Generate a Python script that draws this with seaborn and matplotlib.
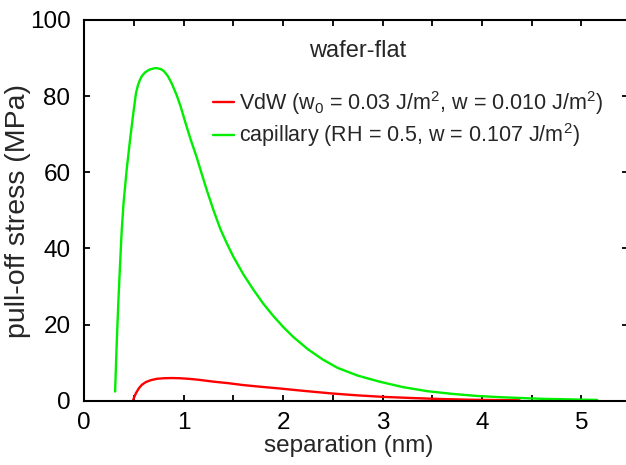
import numpy as np
import pandas as pd
import matplotlib
matplotlib.use("Agg")
import matplotlib.pyplot as plt
import seaborn as sns
from matplotlib.ticker import MultipleLocator

# ---- data ----
vdw_x = [0.49, 0.50, 0.52, 0.55, 0.58, 0.62, 0.67, 0.73, 0.80, 0.88, 0.96, 1.05,
         1.15, 1.30, 1.45, 1.60, 1.80, 1.97, 2.20, 2.49, 2.75, 3.01, 3.30, 3.57,
         3.90, 4.38]
vdw_y = [0.0, 0.8, 2.0, 3.3, 4.2, 4.9, 5.4, 5.75, 5.9, 5.95, 5.9, 5.75,
         5.5, 5.0, 4.6, 4.1, 3.6, 3.2, 2.6, 1.9, 1.4, 1.0, 0.7, 0.45,
         0.25, 0.1]
cap_x = [0.31, 0.326, 0.342, 0.36, 0.376, 0.395, 0.426, 0.46, 0.493, 0.52, 0.54,
         0.56, 0.58, 0.61, 0.65, 0.70, 0.73, 0.77, 0.80, 0.84, 0.88, 0.93, 0.97,
         1.02, 1.07, 1.13, 1.18, 1.23, 1.30, 1.37, 1.44, 1.50, 1.60, 1.70, 1.80,
         1.90, 2.00, 2.10, 2.25, 2.40, 2.55, 2.75, 2.97, 3.20, 3.45, 3.70, 3.95,
         4.20, 4.60, 5.16]
cap_y = [2.4, 15.0, 25.6, 36.0, 44.5, 52.0, 60.6, 68.5, 75.5, 80.8, 82.9,
         84.3, 85.3, 86.2, 86.9, 87.3, 87.35, 87.1, 86.6, 85.3, 83.3, 80.2, 77.2,
         72.8, 68.6, 64.0, 59.7, 55.5, 50.0, 45.0, 41.0, 37.8, 33.2, 29.2, 25.5,
         22.3, 19.4, 16.8, 13.5, 10.8, 8.6, 6.6, 5.0, 3.6, 2.5, 1.8, 1.25,
         0.9, 0.5, 0.2]
vdw_label = "VdW (w$_0$ = 0.03 J/m$^2$, w = 0.010 J/m$^2$)"
cap_label = "capillary (RH = 0.5, w = 0.107 J/m$^2$)"
x_ticks = [0, 1, 2, 3, 4, 5]
y_ticks = [0, 20, 40, 60, 80, 100]
title_text = "wafer-flat"
x_label = "separation (nm)"
y_label = "pull-off stress (MPa)"

sns.set_theme(style="ticks")
plt.rcParams["font.family"] = ["Liberation Sans", "DejaVu Sans"]
plt.rcParams["mathtext.fontset"] = "custom"
plt.rcParams["mathtext.rm"] = "Liberation Sans"
plt.rcParams["mathtext.it"] = "Liberation Sans:italic"
plt.rcParams["mathtext.default"] = "regular"

df = pd.concat([
    pd.DataFrame({"x": vdw_x, "y": vdw_y, "series": vdw_label}),
    pd.DataFrame({"x": cap_x, "y": cap_y, "series": cap_label}),
], ignore_index=True)

W, H = 626, 465
fig = plt.figure(figsize=(W / 100, H / 100), dpi=100)
px_unit = 99.4
left_px, bottom_px, top_px = 84.3, 400.7, 20.0
xmax = 5.47
ax = fig.add_axes([left_px / W, (H - bottom_px) / H, xmax * px_unit / W,
                   (bottom_px - top_px) / H])

sns.lineplot(data=df, x="x", y="y", hue="series", hue_order=[vdw_label, cap_label],
             palette=["#ff0000", "#00ee00"], estimator=None, sort=False,
             linewidth=1.7, ax=ax)

ax.set_xlim(0, xmax)
ax.set_ylim(0, 100)
ax.set_xticks(x_ticks)
ax.set_yticks(y_ticks)
ax.xaxis.set_minor_locator(MultipleLocator(0.5))
ax.tick_params(which="both", direction="in", top=True, right=True, width=1.3,
               colors="black")
ax.tick_params(which="major", length=4.5, labelsize=17.5, pad=10)
ax.tick_params(axis="x", which="major", pad=8)
ax.tick_params(which="minor", length=4.5)
for s in ax.spines.values():
    s.set_linewidth(1.5)
    s.set_color("black")
ax.spines["right"].set_visible(False)

ax.set_xlabel(x_label, fontsize=17.5)
ax.set_ylabel(y_label, fontsize=20.5)
ax.xaxis.set_label_coords(348.5 / W, (H - 452) / H, transform=fig.transFigure)
ax.xaxis.label.set_va("baseline")
ax.yaxis.set_label_coords(31 / W, (H - 211) / H, transform=fig.transFigure)

fig.text(357.5 / W, (H - 57) / H, title_text, fontsize=17, ha="center",
         va="baseline")

sns.move_legend(ax, "upper left", bbox_to_anchor=(213 / W, (H - 89) / H),
                bbox_transform=fig.transFigure, frameon=False, title=None,
                fontsize=15.5, handlelength=0.98, handletextpad=0.23,
                labelspacing=0.2, borderpad=0, borderaxespad=0)

fig.savefig("out.png", dpi=100)
